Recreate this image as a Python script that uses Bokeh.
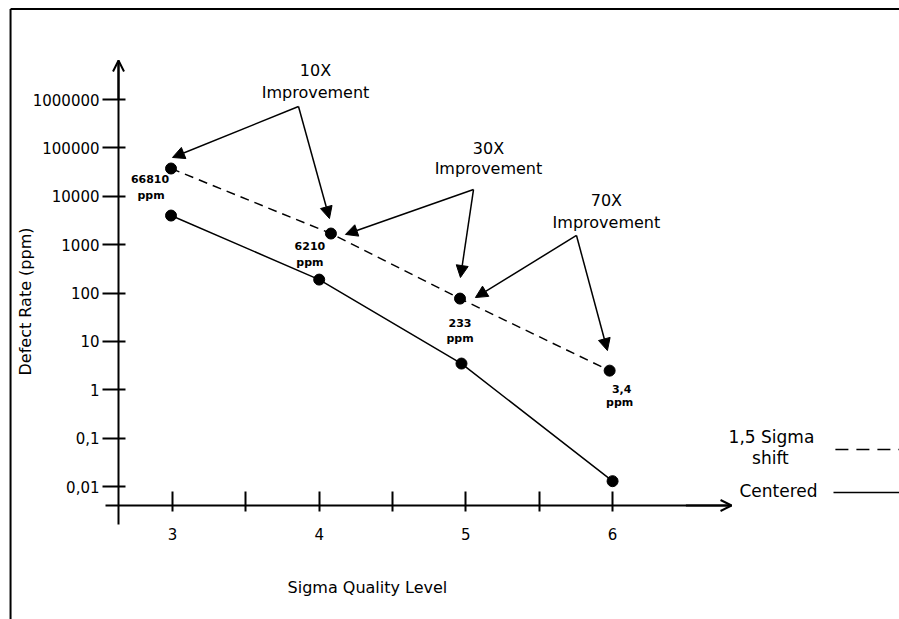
import math
from bokeh.plotting import figure
from bokeh.models import (Range1d, LinearAxis, LogAxis, FixedTicker, Arrow,
                          NormalHead, OpenHead, Label, ColumnDataSource)
from bokeh.core.properties import value
from bokeh.embed import file_html
from bokeh.resources import INLINE

FONT = "DejaVu Sans"

# ---------------- data ----------------
sigma_ticks = [3, 4, 5, 6]
sigma_minor_ticks = [3.5, 4.5, 5.5]
ppm_ticks = [0.01, 0.1, 1, 10, 100, 1000, 10000, 100000, 1000000]
ppm_tick_labels = ["0,01", "0,1", "1", "10", "100", "1000", "10000", "100000", "1000000"]

shift_sigma = [2.99, 4.08, 4.96, 5.98]
shift_ppm = [37500, 1700, 77, 2.5]
shift_ppm_text = ["66810", "6210", "233", "3,4"]

centered_sigma = [2.99, 4.0, 4.97, 6.0]
centered_ppm = [4000, 190, 3.5, 0.013]

improvement_text = ["10X", "30X", "70X"]

# ---------------- figure ----------------
p = figure(width=899, height=619,
           x_range=Range1d(1.8275, 7.956),
           y_range=Range1d(10 ** -4.744, 10 ** 8.0455),
           y_axis_type="log", x_axis_location=None, y_axis_location=None,
           output_backend="svg", toolbar_location=None, min_border=0)
p.outline_line_color = None
p.grid.visible = False
p.background_fill_color = "white"
p.border_fill_color = "white"

# picture border (top and left)
p.line([1.896, 8.1], [7.41e7, 7.41e7], line_width=2, color="black")
p.line([1.896, 1.896], [1e-6, 7.41e7], line_width=2, color="black")

# axes
yaxis = LogAxis(fixed_location=2.632, bounds=(1.66e-3, 6.4e6),
                ticker=FixedTicker(ticks=ppm_ticks, minor_ticks=[]),
                major_label_overrides=dict(zip(ppm_ticks, ppm_tick_labels)),
                axis_line_width=2, axis_line_color="black",
                major_tick_line_width=2, major_tick_line_color="black",
                major_tick_out=16, major_tick_in=7,
                minor_tick_line_color=None, major_label_standoff=3,
                major_label_text_font=FONT, major_label_text_font_size="15px",
                major_label_text_color="black")
p.add_layout(yaxis, "left")

xaxis = LinearAxis(fixed_location=0.00409, bounds=(2.543, 6.811),
                   ticker=FixedTicker(ticks=sigma_ticks, minor_ticks=sigma_minor_ticks),
                   axis_line_width=2, axis_line_color="black",
                   major_tick_line_width=2, major_tick_line_color="black",
                   major_tick_in=14, major_tick_out=6,
                   minor_tick_line_width=2, minor_tick_line_color="black",
                   minor_tick_in=14, minor_tick_out=6,
                   major_label_standoff=17,
                   major_label_text_font=FONT, major_label_text_font_size="15px",
                   major_label_text_color="black")
p.add_layout(xaxis, "below")

# axis arrow heads
p.add_layout(Arrow(end=OpenHead(size=11, line_width=2, line_color="black"),
                   x_start=2.632, y_start=1.0e6, x_end=2.632, y_end=6.4e6,
                   line_width=2, line_color="black"))
p.add_layout(Arrow(end=OpenHead(size=11, line_width=2, line_color="black"),
                   x_start=6.5, y_start=0.00409, x_end=6.811, y_end=0.00409,
                   line_width=2, line_color="black"))

# axis titles
p.add_layout(Label(x=4.329, y=8.26e-5, text="Sigma Quality Level",
                   text_align="center", text_baseline="middle",
                   text_font=FONT, text_font_size="16px", text_color="black"))
p.add_layout(Label(x=1.998, y=67, text="Defect Rate (ppm)", angle=math.pi / 2,
                   text_align="center", text_baseline="middle",
                   text_font=FONT, text_font_size="16px", text_color="black"))

# series
p.line(shift_sigma, shift_ppm, line_dash="9 6", line_width=1.5, color="black")
p.scatter(shift_sigma, shift_ppm, size=11, color="black")
p.line(centered_sigma, centered_ppm, line_width=1.5, color="black")
p.scatter(centered_sigma, centered_ppm, size=11, color="black")

# ppm value labels next to the shifted points
lab_src = ColumnDataSource(dict(
    x=shift_sigma, y=shift_ppm, t=shift_ppm_text, u=["ppm"] * len(shift_ppm_text),
    dxn=[-21, -21, 0, 12], dyn=[10, 12, 24, 18],
    dxu=[-20, -21, 0, 10], dyu=[27, 29, 40, 32]))
p.text(x="x", y="y", text="t", x_offset="dxn", y_offset="dyn", source=lab_src,
       text_align="center", text_baseline="middle", text_font=value(FONT),
       text_font_style="bold", text_font_size="11px", text_color="black")
p.text(x="x", y="y", text="u", x_offset="dxu", y_offset="dyu", source=lab_src,
       text_align="center", text_baseline="middle", text_font=value(FONT),
       text_font_style="bold", text_font_size="11px", text_color="black")

# improvement annotations
imp_src = ColumnDataSource(dict(
    x=[3.975, 5.154, 5.958], y_num=[3.97e6, 9.73e4, 8180], y_txt=[1.40e6, 3.75e4, 2880],
    num=improvement_text, word=["Improvement"] * 3))
p.text(x="x", y="y_num", text="num", source=imp_src, text_align="center",
       text_baseline="middle", text_font=value(FONT), text_font_size="16px", text_color="black")
p.text(x="x", y="y_txt", text="word", source=imp_src, text_align="center",
       text_baseline="middle", text_font=value(FONT), text_font_size="16px", text_color="black")

arrow_specs = [
    ((3.859, 7.16e5), (3.0, 6.34e4)),
    ((3.859, 7.16e5), (4.07, 3470)),
    ((5.052, 1.38e4), (4.179, 1630)),
    ((5.052, 1.38e4), (4.963, 210)),
    ((5.754, 1550), (5.065, 81)),
    ((5.754, 1550), (5.965, 6.5)),
]
for (xs, ys), (xe, ye) in arrow_specs:
    p.add_layout(Arrow(end=NormalHead(size=12, fill_color="black", line_color="black"),
                       x_start=xs, y_start=ys, x_end=xe, y_end=ye,
                       line_width=1.5, line_color="black"))

# legend (text left, line sample right)
leg_src = ColumnDataSource(dict(x=[7.083, 7.076, 7.131], y=[0.104, 0.0383, 0.00834],
                                t=["1,5 Sigma", "shift", "Centered"]))
p.text(x="x", y="y", text="t", source=leg_src, text_align="center", text_baseline="middle",
       text_font=value(FONT), text_font_size="17px", text_color="black")
p.line([7.519, 8.1], [0.0587, 0.0587], line_dash="13 8", line_width=1.5, color="black")
p.line([7.506, 8.1], [0.00759, 0.00759], line_width=1.5, color="black")

open("out.html", "w").write(file_html(p, INLINE))
